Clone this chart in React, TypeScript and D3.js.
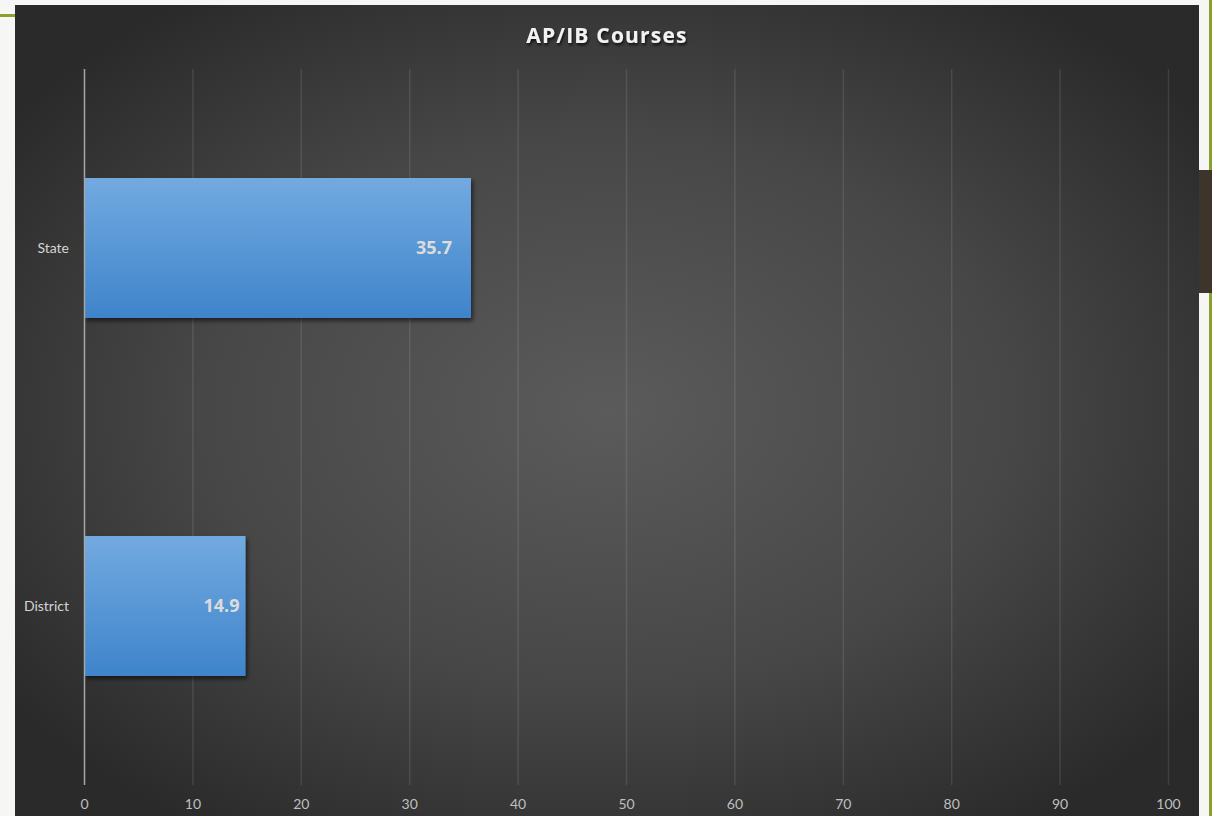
import { useEffect, useRef } from 'react';
import * as d3 from 'd3';

const categories = ['State', 'District'];
const values = [35.7, 14.9];
const labelInset = [19, 6];
const xTicks = [0, 10, 20, 30, 40, 50, 60, 70, 80, 90, 100];
const title = 'AP/IB Courses';

export default function App() {
    const svgRef = useRef<SVGSVGElement>(null);

    useEffect(() => {
        if (!svgRef.current) return;
        const W = 1212, H = 816;
        const panel = { x: 15, y: 5, w: 1184, h: 811 };
        const plot = { left: 84, right: 1168, top: 69, bottom: 785 };

        const svg = d3.select(svgRef.current);
        svg.selectAll('*').remove();
        svg.attr('width', W).attr('height', H);

        const defs = svg.append('defs');
        const bg = defs.append('radialGradient').attr('id', 'bg-grad')
            .attr('cx', '50%').attr('cy', '50%').attr('r', '62%');
        bg.append('stop').attr('offset', '0%').attr('stop-color', '#5b5b5b');
        bg.append('stop').attr('offset', '55%').attr('stop-color', '#474747');
        bg.append('stop').attr('offset', '100%').attr('stop-color', '#2a2a2a');

        const bar = defs.append('linearGradient').attr('id', 'bar-grad')
            .attr('x1', 0).attr('y1', 0).attr('x2', 0).attr('y2', 1);
        bar.append('stop').attr('offset', '0%').attr('stop-color', '#72aae0');
        bar.append('stop').attr('offset', '100%').attr('stop-color', '#3f84cb');

        const shadow = defs.append('filter').attr('id', 'bar-shadow')
            .attr('x', '-10%').attr('y', '-10%').attr('width', '130%').attr('height', '130%');
        shadow.append('feDropShadow').attr('dx', 2).attr('dy', 3).attr('stdDeviation', 2)
            .attr('flood-color', '#000').attr('flood-opacity', 0.55);

        const tshadow = defs.append('filter').attr('id', 'title-shadow');
        tshadow.append('feDropShadow').attr('dx', 1).attr('dy', 2).attr('stdDeviation', 1.5)
            .attr('flood-color', '#000').attr('flood-opacity', 0.8);

        // page background outside the panel
        svg.append('rect').attr('width', W).attr('height', H).attr('fill', '#f6f6f5');
        svg.append('rect').attr('x', 0).attr('y', 14).attr('width', panel.x).attr('height', 3).attr('fill', '#8aa12e');
        svg.append('rect').attr('x', 1209).attr('y', 0).attr('width', 3).attr('height', H).attr('fill', '#8aa12e');
        svg.append('rect').attr('x', panel.x + panel.w).attr('y', 170).attr('width', W - panel.x - panel.w).attr('height', 123).attr('fill', '#3d342c');

        // chart panel
        svg.append('rect').attr('x', panel.x).attr('y', panel.y).attr('width', panel.w).attr('height', panel.h)
            .attr('fill', 'url(#bg-grad)');

        const x = d3.scaleLinear().domain([0, 100]).range([plot.left, plot.right]);
        const y = d3.scaleBand<string>().domain(categories).range([plot.top, plot.bottom])
            .paddingInner(0.609).paddingOuter(0.3045);

        // gridlines
        svg.append('g').selectAll('line').data(xTicks.slice(1)).join('line')
            .attr('x1', d => x(d) + 0.5).attr('x2', d => x(d) + 0.5)
            .attr('y1', plot.top).attr('y2', plot.bottom)
            .attr('stroke', '#ffffff').attr('stroke-opacity', 0.1).attr('stroke-width', 1.5);

        // bars
        svg.append('g').selectAll('rect').data(values).join('rect')
            .attr('x', x(0)).attr('y', (_, i) => y(categories[i])!)
            .attr('width', d => x(d) - x(0)).attr('height', y.bandwidth())
            .attr('fill', 'url(#bar-grad)').attr('filter', 'url(#bar-shadow)');

        // zero axis line
        svg.append('line').attr('x1', x(0) + 0.5).attr('x2', x(0) + 0.5)
            .attr('y1', plot.top).attr('y2', plot.bottom)
            .attr('stroke', '#a6a6a6').attr('stroke-width', 1.5);

        // data labels
        svg.append('g').selectAll('text').data(values).join('text')
            .attr('x', (d, i) => x(d) - labelInset[i])
            .attr('y', (_, i) => y(categories[i])! + y.bandwidth() / 2 + 1)
            .attr('text-anchor', 'end').attr('dominant-baseline', 'middle')
            .attr('font-family', '"Open Sans", sans-serif').attr('font-weight', 700)
            .attr('font-size', 18).attr('fill', '#dcdcdc')
            .text(d => d.toFixed(1));

        // category labels
        svg.append('g').selectAll('text').data(categories).join('text')
            .attr('x', 69).attr('y', d => y(d)! + y.bandwidth() / 2 + 5)
            .attr('text-anchor', 'end')
            .attr('font-family', 'Lato, "Open Sans", sans-serif').attr('font-size', 14)
            .attr('fill', '#d4d4d4')
            .text(d => d);

        // tick labels
        svg.append('g').selectAll('text').data(xTicks).join('text')
            .attr('x', d => x(d) + 0.5).attr('y', 809)
            .attr('text-anchor', 'middle')
            .attr('font-family', 'Lato, "Open Sans", sans-serif').attr('font-size', 14)
            .attr('fill', '#bfbfbf')
            .text(d => d);

        // title
        svg.append('text').attr('x', 607).attr('y', 43)
            .attr('text-anchor', 'middle')
            .attr('font-family', '"Open Sans", sans-serif').attr('font-weight', 700)
            .attr('font-size', 21).attr('letter-spacing', 1.2)
            .attr('fill', '#f2f2f2').attr('filter', 'url(#title-shadow)')
            .text(title);
    }, []);

    return <svg ref={svgRef} style={{ position: 'absolute', left: 0, top: 0, display: 'block' }} />;
}
